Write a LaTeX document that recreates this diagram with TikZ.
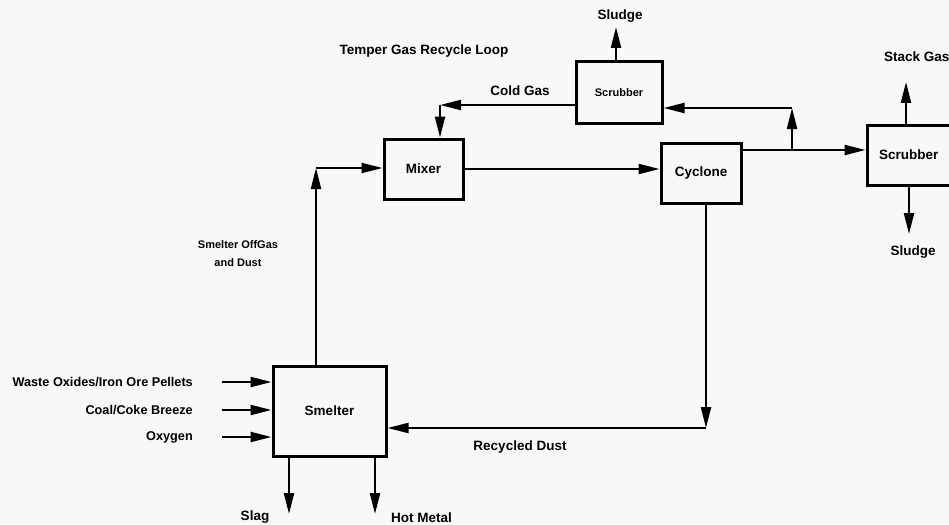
\documentclass[tikz,border=0pt]{standalone}
\usepackage{fontspec}
\setmainfont{Liberation Sans}
\usetikzlibrary{arrows.meta}
\definecolor{paper}{RGB}{248,248,246}
\tikzset{
  unit/.style={draw, line width=3pt, inner sep=0pt, font=\fontsize{13.5}{15}\selectfont\bfseries},
  lbl/.style={inner sep=0pt, font=\fontsize{13.5}{15}\selectfont\bfseries},
  inlbl/.style={inner sep=0pt, anchor=east, font=\fontsize{12.7}{15}\selectfont\bfseries},
  smalllbl/.style={inner sep=0pt, align=center, font=\fontsize{11}{18}\selectfont\bfseries},
  flow/.style={line width=2.2pt, -{Triangle[length=21pt,width=10pt]}},
  plain/.style={line width=2.2pt}
}
\begin{document}
\begin{tikzpicture}[x=1pt,y=-1pt]
  \fill[paper] (0,0) rectangle (949,524);
  \clip (0,0) rectangle (949,524);

  % units
  \node[unit, minimum width=113pt, minimum height=90pt] (smelter) at (329.5,411) {Smelter};
  \node[unit, minimum width=79pt, minimum height=60pt] (mixer) at (423.5,169) {Mixer};
  \node[unit, minimum width=80pt, minimum height=60pt] (cyclone) at (701,173) {Cyclone};
  \node[unit, minimum width=86pt, minimum height=61pt, font=\fontsize{11}{13}\selectfont\bfseries] (topscrub) at (619,92.5) {Scrubber};
  \node[unit, minimum width=100pt, minimum height=60pt, text width=90pt, align=left] (rightscrub) at (917,155) {\hspace*{7pt}Scrubber};

  % labels
  \node[inlbl] (wastelbl) at (193,382) {Waste Oxides/Iron Ore Pellets};
  \node[inlbl] (coallbl) at (193,410) {Coal/Coke Breeze};
  \node[inlbl] (oxylbl) at (193,437) {Oxygen};
  \node[lbl] (slaglbl) at (255,517) {Slag};
  \node[lbl, anchor=west] (hotlbl) at (391,518) {Hot Metal};
  \node[smalllbl] (offgaslbl) at (238,254) {Smelter OffGas\\and Dust};
  \node[lbl] (recyclbl) at (520,447) {Recycled Dust};
  \node[lbl] (templbl) at (424,51) {Temper Gas Recycle Loop};
  \node[lbl] (coldlbl) at (520,91) {Cold Gas};
  \node[lbl] (topsludgelbl) at (620,16) {Sludge};
  \node[lbl, anchor=west] (stacklbl) at (884,57) {Stack Gas};
  \node[lbl] (sludgelbl) at (913,252) {Sludge};

  % turning points
  \coordinate (in1) at (222,382);
  \coordinate (in2) at (222,410);
  \coordinate (in3) at (222,437);
  \coordinate (slagend) at (289,514);
  \coordinate (hotend) at (375,514);
  \coordinate (offgasturn) at (316,168);
  \coordinate (coldturn) at (440,105);
  \coordinate (split) at (792,150);
  \coordinate (branchturn) at (792,108);
  \coordinate (dustturn) at (706,428);
  \coordinate (topsludgeend) at (616,27);
  \coordinate (stackend) at (906,82);
  \coordinate (sludgeend) at (909,234);

  % streams
  \draw[flow] (in1) -- (smelter.west |- in1);
  \draw[flow] (in2) -- (smelter.west |- in2);
  \draw[flow] (in3) -- (smelter.west |- in3);
  \draw[flow] (slagend |- smelter.south) -- (slagend);
  \draw[flow] (hotend |- smelter.south) -- (hotend);
  \draw[flow] (offgasturn |- smelter.north) -- (offgasturn);
  \draw[flow] (offgasturn) -- (mixer.west |- offgasturn);
  \draw[flow] (mixer.east) -- (cyclone.west |- mixer.east);
  \draw[plain] (cyclone.east |- split) -- (split);
  \draw[flow] (split) -- (rightscrub.west |- split);
  \draw[flow] (split) -- (branchturn);
  \draw[flow] (branchturn) -- (topscrub.east |- branchturn);
  \draw[flow] (topscrub.west |- coldturn) -- (coldturn);
  \draw[flow] (coldturn) -- (coldturn |- mixer.north);
  \draw[flow] (topsludgeend |- topscrub.north) -- (topsludgeend);
  \draw[flow] (stackend |- rightscrub.north) -- (stackend);
  \draw[flow] (sludgeend |- rightscrub.south) -- (sludgeend);
  \draw[flow] (dustturn |- cyclone.south) -- (dustturn);
  \draw[flow] (dustturn) -- (smelter.east |- dustturn);
\end{tikzpicture}
\end{document}
